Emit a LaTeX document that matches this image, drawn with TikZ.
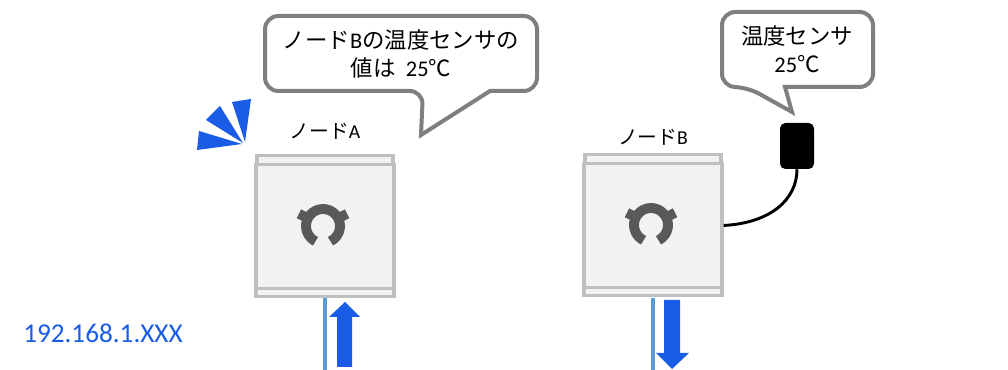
\documentclass[tikz,border=0pt]{standalone}
\usepackage{fontspec}
\setmainfont{Carlito}
\newfontfamily\jp{Noto Sans CJK JP}
\definecolor{bubblegray}{HTML}{7F7F7F}
\definecolor{framegray}{HTML}{BFBFBF}
\definecolor{bodygray}{HTML}{F2F2F2}
\definecolor{logogray}{HTML}{595959}
\definecolor{signalblue}{HTML}{1A5CE6}
\definecolor{wireblue}{HTML}{5B9BD5}
\tikzset{
	bubble/.style={draw=bubblegray, line width=3pt, fill=white, line join=miter},
	bubbletext/.style={align=center, font=\fontsize{16.8}{21}\selectfont},
	nodelabel/.style={font=\fontsize{14.8}{18}\selectfont},
	unitbody/.style={draw=framegray, line width=2.4pt, fill=bodygray, minimum width=103.5pt, minimum height=93pt, inner sep=0pt},
	unitstrip/.style={draw=framegray, line width=2.4pt, fill=bodygray},
	logoline/.style={draw=logogray, line width=7.4pt},
	earline/.style={draw=logogray, line width=7.4pt},
	lanwire/.style={draw=wireblue, line width=3pt},
	signal/.style={fill=signalblue, draw=none}
}
\def\unitbox(#1,#2)#3{
	\begin{scope}[shift={(#1,#2)}]
		\draw[unitstrip] (-68, 62) rectangle (68, 71);
		\draw[unitstrip] (-69, -62) rectangle (69, -70);
		\node[unitbody] (#3) at (0, 0) {};
		\draw[logoline] ($(-2, 0.5)+(-64:17)$) arc (-64:244:17);
		\draw[earline] ($(-2, 0.5)+(27:15)$) -- ($(-2, 0.5)+(27:27)$);
		\draw[earline] ($(-2, 0.5)+(153:15)$) -- ($(-2, 0.5)+(153:27)$);
	\end{scope}
}
\usetikzlibrary{calc}

\begin{document}
\begin{tikzpicture}[x=0.75pt, y=0.75pt]
	\useasboundingbox (0, 0) rectangle (1008, 370);
	
	%%%%% NODE A %%%%%
	
	\draw[lanwire] (325, 72) -- (325, 0);
	\unitbox(325, 143.5){nodeA}
	\node[nodelabel] (labelA) at (325, 239) {{\jp ノード}A};
	
	\draw[signal] (345, 68) -- (360, 53) -- (352, 53) -- (352, 3) -- (337, 3) -- (337, 53) -- (329, 53) -- cycle;
	
	\fill[signal] (232, 268) -- (251, 271) -- (245, 228) -- cycle;
	\fill[signal] (206, 250) -- (220, 264) -- (243, 227) -- cycle;
	\fill[signal] (199, 239) -- (197, 220) -- (242, 226) -- cycle;
	
	\draw[bubble, rounded corners=10pt] (490, 279) -- (537, 279) -- (537, 354) -- (265, 354) -- (265, 279) -- (423, 279) [sharp corners] -- (421, 235) -- cycle;
	\node[bubbletext] (textA) at (401, 316) {{\jp ノード}B{\jp の温度センサの}\\{\jp 値は}\ \ 25{\jp ℃}};
	
	%%%%% NODE B %%%%%
	
	\draw[lanwire] (653, 72) -- (653, 0);
	\unitbox(653, 144.5){nodeB}
	\node[nodelabel] (labelB) at (653, 233) {{\jp ノード}B};
	
	\draw[signal] (672, 1) -- (656, 17) -- (664, 17) -- (664, 70) -- (680, 70) -- (680, 17) -- (689, 17) -- cycle;
	
	\node[fill=black, rounded corners=4pt, minimum width=25.5pt, minimum height=34.5pt, inner sep=0pt] (sensorB) at (797, 224) {};
	\draw[line width=2.2pt] (sensorB.south) .. controls (797, 170) and (770, 147) .. (nodeB.east);
	
	\draw[bubble, rounded corners=10pt] (785, 283) -- (873, 283) -- (873, 358) -- (722, 358) -- (722, 283) -- (747, 283) [sharp corners] -- (792, 258) -- cycle;
	\node[bubbletext] (textB) at (797, 321) {{\jp 温度センサ}\\25{\jp ℃}};
	
	%%%%% ADDRESS %%%%%
	
	\node[text=signalblue, font=\fontsize{20.4}{24}\selectfont] (address) at (103, 37) {192.168.1.XXX};
\end{tikzpicture}
\end{document}
